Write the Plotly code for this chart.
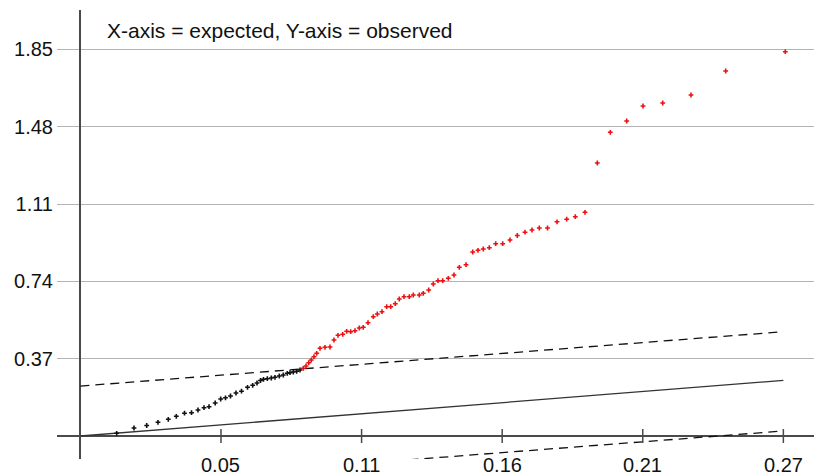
import plotly.graph_objects as go

# ---- data ----
black_x = [0.01384, 0.02043, 0.02528, 0.02958, 0.03351, 0.03656, 0.03969, 0.04236,
           0.04483, 0.04712, 0.04903, 0.05139, 0.05349, 0.05532, 0.05722, 0.05932,
           0.06142, 0.06371, 0.06569, 0.06733, 0.06866, 0.06981, 0.07125, 0.07278,
           0.07419, 0.07583, 0.07735, 0.07888, 0.07991, 0.08117, 0.08246, 0.08372]
black_y = [0.0129, 0.0383, 0.0502, 0.0656, 0.0799, 0.0943, 0.1091, 0.1115,
           0.1244, 0.1354, 0.1402, 0.1579, 0.1770, 0.1828, 0.1914, 0.2057,
           0.2144, 0.2330, 0.2426, 0.2536, 0.2656, 0.2713, 0.2742, 0.2775,
           0.2809, 0.2871, 0.2919, 0.3000, 0.3029, 0.3062, 0.3096, 0.3158]

red_x = [0.08498, 0.08601, 0.08704, 0.08803, 0.08906, 0.09009, 0.09135, 0.09325,
         0.09516, 0.09668, 0.09821, 0.10000, 0.10152, 0.10305, 0.10469, 0.10633,
         0.10785, 0.10965, 0.11167, 0.11319, 0.11498, 0.11677, 0.11830, 0.12005,
         0.12158, 0.12337, 0.12539, 0.12692, 0.12920, 0.13073, 0.13279, 0.13454,
         0.13633, 0.13812, 0.14026, 0.14243, 0.14445, 0.14701, 0.14956, 0.15158,
         0.15360, 0.15589, 0.15833, 0.16100, 0.16378, 0.16657, 0.16950, 0.17217,
         0.17495, 0.17808, 0.18170, 0.18540, 0.18868, 0.19237, 0.19707, 0.20202,
         0.20827, 0.21449, 0.22200, 0.23279, 0.24602, 0.26874]
red_y = [0.3239, 0.3349, 0.3507, 0.3636, 0.3794, 0.3957, 0.4196, 0.4244,
         0.4258, 0.4593, 0.4818, 0.4866, 0.5010, 0.4990, 0.5038, 0.5167,
         0.5201, 0.5421, 0.5708, 0.5837, 0.5947, 0.6187, 0.6187, 0.6330,
         0.6555, 0.6665, 0.6665, 0.6746, 0.6746, 0.6828, 0.6986, 0.7273,
         0.7431, 0.7431, 0.7545, 0.7703, 0.8072, 0.8196, 0.8804, 0.8885,
         0.8947, 0.9010, 0.9201, 0.9201, 0.9378, 0.9593, 0.9751, 0.9856,
         0.9952, 0.9952, 1.0249, 1.0373, 1.0493, 1.0703, 1.3062, 1.4531,
         1.5072, 1.5789, 1.5933, 1.6316, 1.7464, 1.8388]

ref_x = [0.0, 0.268]
ref_y = [0.0, 0.266]
upper_y = [0.239, 0.499]
lower_y = [-0.235, 0.024]

x_tickvals = [0.0536, 0.1072, 0.1608, 0.2144, 0.268]
x_ticktext = ["0.05", "0.11", "0.16", "0.21", "0.27"]
y_tickvals = [0.37, 0.74, 1.11, 1.48, 1.85]
y_ticktext = ["0.37", "0.74", "1.11", "1.48", "1.85"]

FONT = "Liberation Sans, Arial, sans-serif"
AXIS_COLOR = "#4a4a4a"

fig = go.Figure()

# confidence band (dashed) and reference line (solid)
fig.add_trace(go.Scatter(x=ref_x, y=upper_y, mode="lines",
                         line=dict(color="#111111", width=1.3, dash="9px,6px"),
                         hoverinfo="skip"))
fig.add_trace(go.Scatter(x=ref_x, y=lower_y, mode="lines",
                         line=dict(color="#111111", width=1.3, dash="9px,6px"),
                         hoverinfo="skip"))
fig.add_trace(go.Scatter(x=ref_x, y=ref_y, mode="lines",
                         line=dict(color="#333333", width=1.3),
                         hoverinfo="skip"))

# x-axis tick marks crossing the y=0 axis line
fig.add_trace(go.Scatter(x=x_tickvals, y=[0] * len(x_tickvals), mode="markers",
                         marker=dict(symbol="line-ns", size=10,
                                     line=dict(color=AXIS_COLOR, width=1.5)),
                         hoverinfo="skip"))

# observed points
fig.add_trace(go.Scatter(x=black_x, y=black_y, mode="markers",
                         marker=dict(symbol="cross", size=4, color="#111111",
                                     line=dict(width=0))))
fig.add_trace(go.Scatter(x=red_x, y=red_y, mode="markers",
                         marker=dict(symbol="cross", size=4, color="#ee1010",
                                     line=dict(width=0))))

# x tick labels below the plot area
for v, t in zip(x_tickvals, x_ticktext):
    fig.add_annotation(x=v, xref="x", y=0, yref="paper", text=t,
                       showarrow=False, xanchor="center", yanchor="top",
                       yshift=7, font=dict(family=FONT, size=20, color="#111111"))

fig.add_annotation(x=(105 - 57) / 757, xref="paper", y=(459 - 31) / 449, yref="paper",
                   text="X-axis = expected, Y-axis = observed", showarrow=False,
                   xanchor="left", yanchor="middle",
                   font=dict(family=FONT, size=21, color="#111111"))

fig.update_layout(
    width=814, height=476,
    margin=dict(l=57, r=0, t=10, b=17),
    paper_bgcolor="white", plot_bgcolor="white",
    showlegend=False,
    font=dict(family=FONT, size=20, color="#111111"),
    xaxis=dict(range=[-0.008921, 0.27968], showgrid=False, zeroline=True,
               zerolinecolor=AXIS_COLOR, zerolinewidth=2, showticklabels=False,
               ticks="", showline=False),
    yaxis=dict(range=[-0.11005, 2.0383], tickvals=y_tickvals, ticktext=y_ticktext,
               showgrid=True, gridcolor="#b4b4b4", gridwidth=1,
               zeroline=True, zerolinecolor=AXIS_COLOR, zerolinewidth=2,
               ticks="", showline=False, ticklabelstandoff=3,
               tickfont=dict(family=FONT, size=20, color="#111111")),
)

fig.write_html("out.html", config={"displayModeBar": False},
               post_script="document.body.style.margin='0';document.body.style.overflow='hidden';")
